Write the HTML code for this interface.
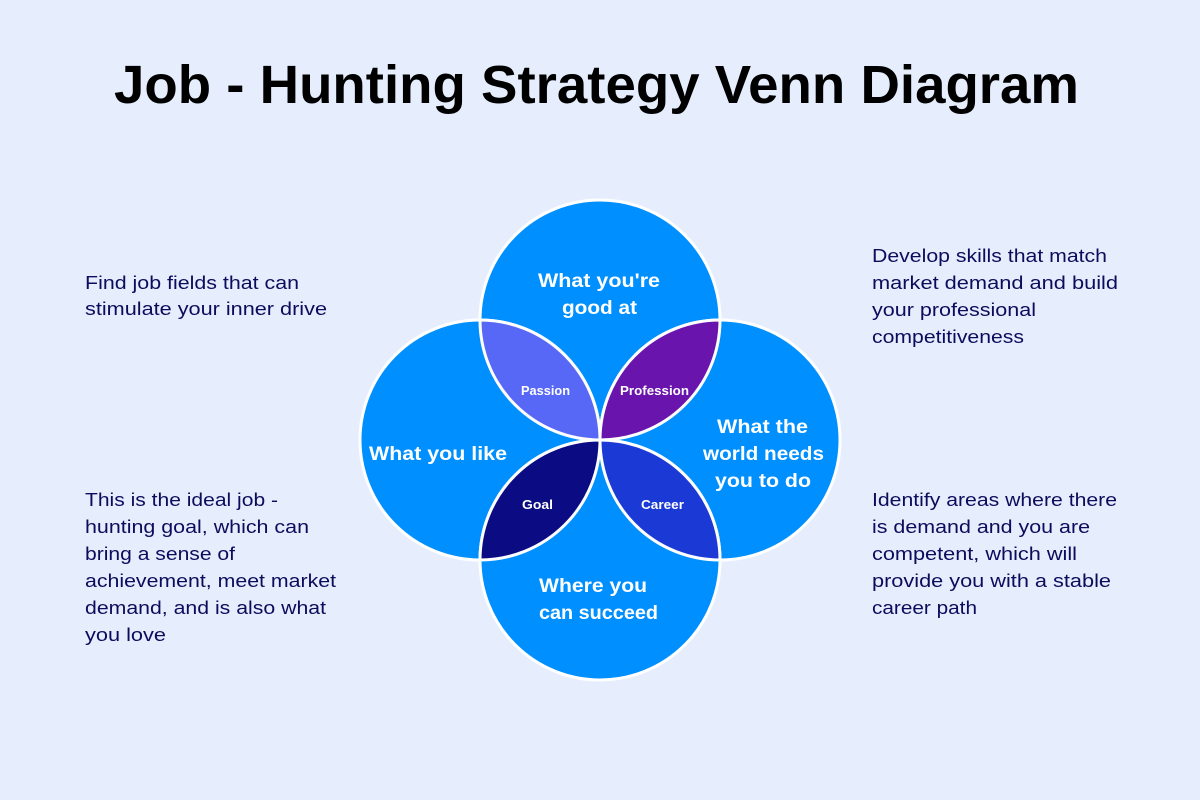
<!DOCTYPE html>
<html>
<head>
<meta charset="utf-8">
<style>
  html, body { margin:0; padding:0; background:#e6eefd; }
  svg { display:block; }
  .t { font-family:"Liberation Sans", "DejaVu Sans", sans-serif; }
</style>
</head>
<body>
<svg width="1200" height="800" viewBox="0 0 1200 800" xmlns="http://www.w3.org/2000/svg">
  <rect x="0" y="0" width="1200" height="800" fill="#e6eefd"/>

  <text class="t" x="114" y="103" font-size="54" font-weight="bold" fill="#000" textLength="965" lengthAdjust="spacingAndGlyphs">Job - Hunting Strategy Venn Diagram</text>

  <!-- circles -->
  <g fill="#008ffe" stroke="#ffffff" stroke-width="3">
    <circle cx="600" cy="320" r="120"/>
    <circle cx="480" cy="440" r="120"/>
    <circle cx="720" cy="440" r="120"/>
    <circle cx="600" cy="560" r="120"/>
  </g>

  <!-- lenses -->
  <g stroke="#ffffff" stroke-width="3">
    <path d="M480,320 A120,120 0 0 0 600,440 A120,120 0 0 0 480,320 Z" fill="#5868f6"/>
    <path d="M600,440 A120,120 0 0 0 720,320 A120,120 0 0 0 600,440 Z" fill="#6a14ae"/>
    <path d="M600,440 A120,120 0 0 1 480,560 A120,120 0 0 1 600,440 Z" fill="#0b0b84"/>
    <path d="M600,440 A120,120 0 0 0 720,560 A120,120 0 0 0 600,440 Z" fill="#1b3ad5"/>
  </g>

  <!-- circle labels -->
  <g class="t" font-weight="bold" font-size="19" fill="#ffffff">
    <text x="538" y="287" textLength="122" lengthAdjust="spacingAndGlyphs">What you're</text>
    <text x="562" y="314" textLength="75" lengthAdjust="spacingAndGlyphs">good at</text>
    <text x="369" y="460" textLength="138" lengthAdjust="spacingAndGlyphs">What you like</text>
    <text x="717" y="433" textLength="91" lengthAdjust="spacingAndGlyphs">What the</text>
    <text x="703" y="460" textLength="121" lengthAdjust="spacingAndGlyphs">world needs</text>
    <text x="715" y="487" textLength="96" lengthAdjust="spacingAndGlyphs">you to do</text>
    <text x="539" y="592" textLength="108" lengthAdjust="spacingAndGlyphs">Where you</text>
    <text x="539" y="619" textLength="119" lengthAdjust="spacingAndGlyphs">can succeed</text>
  </g>

  <!-- lens labels -->
  <g class="t" font-weight="bold" font-size="12.5" fill="#ffffff">
    <text x="521" y="395" textLength="49" lengthAdjust="spacingAndGlyphs">Passion</text>
    <text x="620" y="395" textLength="69" lengthAdjust="spacingAndGlyphs">Profession</text>
    <text x="522" y="509" textLength="31" lengthAdjust="spacingAndGlyphs">Goal</text>
    <text x="641" y="509" textLength="43" lengthAdjust="spacingAndGlyphs">Career</text>
  </g>

  <!-- side text -->
  <g class="t" font-size="18" fill="#0c0c5c">
    <text x="85" y="289" textLength="214" lengthAdjust="spacingAndGlyphs">Find job fields that can</text>
    <text x="85" y="315" textLength="242" lengthAdjust="spacingAndGlyphs">stimulate your inner drive</text>

    <text x="85" y="506" textLength="193" lengthAdjust="spacingAndGlyphs">This is the ideal job -</text>
    <text x="85" y="533" textLength="224" lengthAdjust="spacingAndGlyphs">hunting goal, which can</text>
    <text x="85" y="560" textLength="150" lengthAdjust="spacingAndGlyphs">bring a sense of</text>
    <text x="85" y="587" textLength="251" lengthAdjust="spacingAndGlyphs">achievement, meet market</text>
    <text x="85" y="614" textLength="241" lengthAdjust="spacingAndGlyphs">demand, and is also what</text>
    <text x="85" y="641" textLength="81" lengthAdjust="spacingAndGlyphs">you love</text>

    <text x="872" y="262" textLength="235" lengthAdjust="spacingAndGlyphs">Develop skills that match</text>
    <text x="872" y="289" textLength="246" lengthAdjust="spacingAndGlyphs">market demand and build</text>
    <text x="872" y="316" textLength="164" lengthAdjust="spacingAndGlyphs">your professional</text>
    <text x="872" y="343" textLength="152" lengthAdjust="spacingAndGlyphs">competitiveness</text>

    <text x="872" y="506" textLength="245" lengthAdjust="spacingAndGlyphs">Identify areas where there</text>
    <text x="872" y="533" textLength="218" lengthAdjust="spacingAndGlyphs">is demand and you are</text>
    <text x="872" y="560" textLength="205" lengthAdjust="spacingAndGlyphs">competent, which will</text>
    <text x="872" y="587" textLength="239" lengthAdjust="spacingAndGlyphs">provide you with a stable</text>
    <text x="872" y="614" textLength="105" lengthAdjust="spacingAndGlyphs">career path</text>
  </g>
</svg>
</body>
</html>
